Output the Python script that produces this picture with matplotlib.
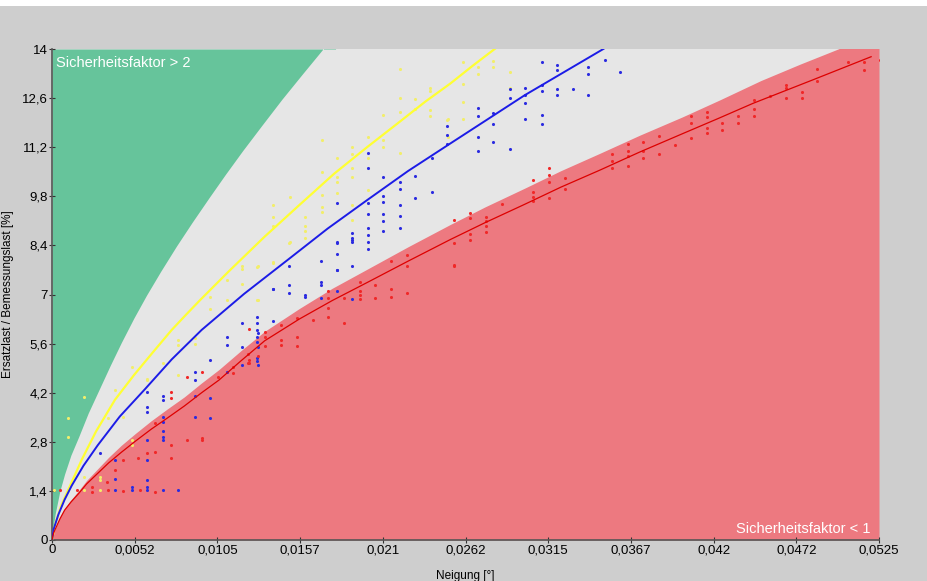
import numpy as np
import matplotlib.pyplot as plt
from matplotlib.patches import Rectangle

plt.rcParams['font.family'] = ['Liberation Sans', 'DejaVu Sans']

# fitted curves (x = Neigung, y = Ersatzlast / Bemessungslast)
yellow_x = [0, 0.0002, 0.0006, 0.001, 0.0013, 0.0019, 0.0028, 0.004, 0.0052, 0.0064, 0.0076, 0.0085,
            0.0094, 0.0112, 0.0135, 0.0157, 0.0179, 0.0200, 0.0220, 0.0237, 0.0253, 0.0267, 0.0281, 0.0290]
yellow_y = [0, 0.45, 1.0, 1.4, 1.7, 2.3, 3.1, 4.0, 4.7, 5.35, 5.99, 6.42,
            6.84, 7.65, 8.65, 9.55, 10.44, 11.2, 11.9, 12.5, 13.02, 13.52, 14.0, 14.3]

blue_x = [0, 0.0001, 0.0004, 0.0008, 0.00125, 0.002, 0.0029, 0.0043, 0.0059, 0.0076, 0.0095, 0.0122,
          0.0150, 0.0175, 0.0200, 0.0226, 0.0253, 0.0276, 0.0300, 0.0325, 0.0350, 0.0360]
blue_y = [0, 0.3, 0.72, 1.15, 1.55, 2.12, 2.7, 3.52, 4.3, 5.15, 5.99, 7.02,
          8.0, 8.88, 9.69, 10.52, 11.31, 11.98, 12.68, 13.34, 14.0, 14.3]

red_x = [0, 0.0001, 0.0003, 0.0005, 0.0008, 0.0012, 0.0017, 0.0022, 0.0029, 0.0036, 0.0044, 0.0053,
         0.0063, 0.0073, 0.0084, 0.0095, 0.0106, 0.0120, 0.0135, 0.0157, 0.0178, 0.0200, 0.0226,
         0.0253, 0.0275, 0.0300, 0.0323, 0.0348, 0.0373, 0.0400, 0.0423, 0.0445, 0.0483, 0.0520]
red_y = [0, 0.2, 0.4, 0.6, 0.85, 1.08, 1.33, 1.6, 1.9, 2.2, 2.5, 2.82,
         3.16, 3.47, 3.82, 4.2, 4.56, 5.11, 5.68, 6.3, 6.83, 7.34, 7.95,
         8.57, 9.05, 9.57, 10.06, 10.55, 11.06, 11.58, 12.02, 12.45, 13.12, 13.78]

# area boundaries
green_x = [0, 0.0001, 0.0002, 0.0005, 0.0008, 0.0012, 0.0017, 0.0023, 0.003, 0.0037, 0.0044, 0.0052,
           0.0060, 0.0069, 0.0079, 0.0089, 0.0100, 0.0110, 0.0121, 0.0133, 0.0146, 0.0159, 0.0172, 0.0180]
green_y = [0, 0.45, 0.74, 1.4, 1.88, 2.42, 2.95, 3.62, 4.3, 4.98, 5.63, 6.33,
           6.98, 7.66, 8.38, 9.06, 9.78, 10.42, 11.1, 11.81, 12.57, 13.29, 14.0, 14.4]

redarea_x = [0, 0.0001, 0.0003, 0.0005, 0.0008, 0.0012, 0.0017, 0.0022, 0.0029, 0.0036, 0.0044, 0.0053,
             0.0063, 0.0073, 0.0084, 0.0095, 0.0106, 0.0120, 0.0135, 0.0157, 0.0178, 0.0200, 0.0226,
             0.0253, 0.0275, 0.0300, 0.0323, 0.0348, 0.0373, 0.0400, 0.0424, 0.0450, 0.0475, 0.0499, 0.0525]
redarea_y = [0, 0.22, 0.42, 0.64, 0.9, 1.14, 1.41, 1.7, 2.03, 2.36, 2.7, 3.04,
             3.4, 3.73, 4.08, 4.48, 4.86, 5.4, 5.95, 6.6, 7.18, 7.72, 8.36,
             9.0, 9.5, 10.03, 10.53, 11.03, 11.54, 12.06, 12.55, 13.1, 13.57, 14.0, 14.5]

# measured points
yel_px = [0.0001, 0.00104, 0.00205, 0.00305, 0.00104, 0.00104, 0.00205, 0.00205, 0.00305, 0.00305,
          0.00357, 0.004, 0.00453, 0.00506, 0.00506, 0.00506, 0.00601, 0.00601, 0.00707, 0.00802,
          0.00802, 0.00802, 0.00908, 0.00908, 0.01003, 0.01003, 0.01109, 0.01109, 0.01204, 0.01204,
          0.01204, 0.01303, 0.01303, 0.01309, 0.01309, 0.01405, 0.01405, 0.01405, 0.01405, 0.01405,
          0.01506, 0.01511, 0.01511, 0.01606, 0.01606, 0.01606, 0.01606, 0.01712, 0.01712, 0.01712,
          0.01712, 0.01712, 0.01807, 0.01807, 0.01807, 0.01807, 0.01902, 0.01902, 0.01902, 0.01902,
          0.01902, 0.01902, 0.02008, 0.02008, 0.02008, 0.02103, 0.02103, 0.02103, 0.02209, 0.02209,
          0.02209, 0.02209, 0.02304, 0.02304, 0.024, 0.024, 0.024, 0.024, 0.02505, 0.02516,
          0.02516, 0.02611, 0.02611, 0.02611, 0.02611, 0.02706, 0.02706, 0.02801, 0.02801, 0.02907,
          0.02907]
yel_py = [1.43, 1.43, 1.43, 1.43, 3.47, 2.95, 4.09, 1.81, 1.8, 1.7,
          3.47, 4.28, 3.51, 4.94, 2.85, 2.7, 4.6, 4.55, 5.04, 5.7,
          5.55, 4.7, 5.6, 5.75, 6.93, 6.6, 7.41, 6.84, 7.8, 7.3,
          7.73, 7.79, 6.84, 7.8, 6.84, 9.55, 9.2, 8.96, 7.94, 7.89,
          8.46, 9.79, 8.5, 8.95, 8.8, 8.6, 9.2, 11.4, 10.5, 9.85,
          9.5, 9.35, 10.88, 10.35, 10.2, 9.9, 11.2, 11.0, 10.6, 10.35,
          9.55, 9.12, 11.5, 10.9, 9.98, 12.12, 11.4, 11.2, 13.42, 12.6,
          12.2, 11.03, 12.57, 12.3, 12.9, 12.8, 12.25, 12.1, 11.98, 12.0,
          11.5, 13.64, 13.0, 12.5, 12.0, 13.5, 13.3, 13.65, 13.5, 13.35,
          12.9]

blue_px = [0.004, 0.00506, 0.00506, 0.00601, 0.00601, 0.00707, 0.00802, 0.00305, 0.004, 0.004,
           0.00601, 0.00601, 0.00601, 0.00601, 0.00601, 0.00601, 0.00707, 0.00707, 0.00707, 0.00707,
           0.00707, 0.00707, 0.00707, 0.00908, 0.00908, 0.00908, 0.00908, 0.01003, 0.01003, 0.01003,
           0.01109, 0.01109, 0.01109, 0.01204, 0.0131, 0.0131, 0.0131, 0.01204, 0.01204, 0.01303,
           0.01303, 0.01303, 0.01303, 0.01303, 0.01303, 0.01303, 0.01405, 0.01405, 0.01405, 0.01506,
           0.01506, 0.01506, 0.01606, 0.01606, 0.01706, 0.01706, 0.01706, 0.01706, 0.01807, 0.01807,
           0.01807, 0.01807, 0.01807, 0.01807, 0.01807, 0.01902, 0.01902, 0.01902, 0.01902, 0.01902,
           0.01902, 0.02004, 0.02004, 0.02004, 0.02008, 0.02008, 0.02008, 0.02008, 0.02008, 0.02103,
           0.02103, 0.02103, 0.02103, 0.02103, 0.02103, 0.02209, 0.02209, 0.02209, 0.02209, 0.02209,
           0.02304, 0.02304, 0.0241, 0.0241, 0.02505, 0.02505, 0.02505, 0.02706, 0.02706, 0.02706,
           0.02706, 0.02801, 0.02801, 0.02801, 0.02907, 0.02907, 0.02907, 0.03003, 0.03003, 0.03003,
           0.03003, 0.03109, 0.03109, 0.03109, 0.03109, 0.03109, 0.03204, 0.03204, 0.03204, 0.03204,
           0.03305, 0.03405, 0.03405, 0.03405, 0.0351, 0.03606]
blue_py = [1.43, 1.43, 1.5, 1.43, 1.5, 1.43, 1.43, 2.47, 2.28, 1.74,
           4.23, 3.8, 3.66, 2.85, 2.28, 1.7, 4.1, 4.0, 3.5, 3.37,
           3.1, 2.95, 2.85, 4.8, 4.55, 4.1, 3.51, 5.13, 4.04, 3.47,
           5.8, 5.56, 4.8, 5.51, 5.9, 5.5, 5.0, 6.18, 5.0, 6.37,
           6.2, 6.0, 5.8, 5.65, 5.18, 5.1, 7.15, 6.25, 7.15, 7.81,
           7.27, 7.04, 7.0, 6.94, 7.96, 7.37, 7.27, 6.9, 8.48, 8.15,
           7.71, 7.11, 9.6, 8.5, 7.71, 8.75, 8.6, 8.5, 8.55, 7.81,
           6.86, 8.7, 8.5, 8.3, 11.03, 10.6, 9.6, 9.3, 8.9, 10.34,
           9.8, 9.65, 9.3, 9.1, 8.8, 10.2, 10.0, 9.55, 9.25, 8.9,
           10.38, 9.74, 10.88, 9.93, 11.8, 11.55, 11.3, 12.31, 12.1, 11.5,
           11.1, 12.18, 11.85, 11.35, 12.85, 12.6, 11.14, 12.9, 12.7, 12.45,
           12.0, 13.64, 12.96, 12.8, 12.13, 11.85, 13.55, 13.4, 12.85, 12.7,
           12.85, 13.5, 13.3, 12.7, 13.7, 13.35]

red_px = [0.00051, 0.00157, 0.00252, 0.00252, 0.00357, 0.00453, 0.00559, 0.00654, 0.00347, 0.004,
          0.00453, 0.00547, 0.00601, 0.00654, 0.00654, 0.00755, 0.00755, 0.00755, 0.00755, 0.00855,
          0.00855, 0.0095, 0.0095, 0.0095, 0.01056, 0.01151, 0.01151, 0.01246, 0.01246, 0.0131,
          0.01253, 0.01253, 0.01253, 0.01352, 0.01352, 0.01352, 0.01452, 0.01452, 0.01452, 0.01553,
          0.01553, 0.01553, 0.01655, 0.01754, 0.01754, 0.01754, 0.01754, 0.01853, 0.01853, 0.01955,
          0.01955, 0.01955, 0.01955, 0.0205, 0.0205, 0.02152, 0.02152, 0.02152, 0.02251, 0.02251,
          0.02251, 0.02554, 0.02552, 0.02552, 0.02552, 0.02653, 0.02653, 0.02653, 0.02653, 0.02755,
          0.02755, 0.02755, 0.02755, 0.02855, 0.03055, 0.03055, 0.03055, 0.03055, 0.03155, 0.03155,
          0.03155, 0.03155, 0.03257, 0.03257, 0.03557, 0.03557, 0.03557, 0.03655, 0.03655, 0.03655,
          0.03655, 0.03754, 0.03754, 0.03754, 0.03853, 0.03853, 0.03955, 0.04054, 0.04054, 0.04054,
          0.04156, 0.04156, 0.04156, 0.04156, 0.04255, 0.04255, 0.04357, 0.04357, 0.04456, 0.04456,
          0.04456, 0.04558, 0.04657, 0.04657, 0.04657, 0.04759, 0.04759, 0.04854, 0.04854, 0.05055,
          0.05155, 0.05155, 0.05256]
red_py = [1.43, 1.43, 1.5, 1.38, 1.43, 1.4, 1.43, 1.36, 1.66, 1.99,
          2.28, 2.33, 2.47, 3.33, 2.52, 2.71, 2.33, 4.23, 4.04, 4.66,
          2.85, 2.9, 2.85, 4.8, 4.66, 4.94, 4.75, 5.3, 5.04, 5.25,
          6.01, 5.13, 5.04, 5.94, 5.8, 5.53, 6.13, 5.7, 5.57, 6.32,
          5.8, 5.53, 6.27, 7.11, 6.89, 6.62, 6.37, 6.89, 6.2, 7.37,
          7.1, 7.0, 6.86, 7.27, 6.89, 7.96, 7.15, 6.94, 8.13, 7.8,
          7.04, 8.48, 9.12, 7.82, 7.84, 9.32, 9.18, 8.73, 8.55, 9.22,
          9.1, 8.94, 8.77, 9.58, 10.26, 9.91, 9.77, 9.67, 10.62, 10.4,
          10.2, 9.76, 10.33, 10.0, 11.0, 10.8, 10.6, 11.3, 11.1, 10.95,
          10.66, 11.35, 11.1, 10.9, 11.52, 11.0, 11.26, 12.1, 11.9, 11.47,
          12.2, 12.05, 11.75, 11.6, 11.9, 11.7, 12.1, 11.9, 12.55, 12.3,
          12.1, 12.67, 12.98, 12.9, 12.6, 12.78, 12.6, 13.42, 13.1, 13.64,
          13.64, 13.39, 13.7]

x_ticks = [i * 0.00525 for i in range(11)]
x_labels = ['0', '0,0052', '0,0105', '0,0157', '0,021', '0,0262', '0,0315', '0,0367', '0,042', '0,0472', '0,0525']
y_ticks = [i * 1.4 for i in range(11)]
y_labels = ['0', '1,4', '2,8', '4,2', '5,6', '7', '8,4', '9,8', '11,2', '12,6', '14']

fig = plt.figure(figsize=(9.28, 5.81), dpi=100, facecolor='#cecece')
fig.patches.append(Rectangle((0, 1 - 6 / 581), 1, 6 / 581, transform=fig.transFigure,
                             facecolor='white', edgecolor='none'))
ax = fig.add_axes([52 / 928, 41 / 581, 827 / 928, 491 / 581])
ax.set_facecolor('#e6e6e6')

ax.fill_between(green_x, green_y, 14, color='#66c49b', lw=0, zorder=1)
ax.fill_between(redarea_x, redarea_y, 0, color='#ed7980', lw=0, zorder=1)

ax.scatter(yel_px, yel_py, s=5, color='#f2ee6a', lw=0, zorder=3)
ax.scatter(blue_px, blue_py, s=5, color='#2b2be0', lw=0, zorder=3)
ax.scatter(red_px, red_py, s=5, color='#f02828', lw=0, zorder=3)

ax.plot(yellow_x, yellow_y, color='#ffff33', lw=1.6, zorder=4)
ax.plot(blue_x, blue_y, color='#1c1ce6', lw=1.4, zorder=4)
ax.plot(red_x, red_y, color='#dd0000', lw=0.9, zorder=4)

ax.set_xlim(0, 0.0525)
ax.set_ylim(0, 14)
ax.set_xticks(x_ticks)
ax.set_xticklabels(x_labels)
ax.set_yticks(y_ticks)
ax.set_yticklabels(y_labels)
ax.tick_params(direction='inout', length=4, width=0.8, color='#333333', labelsize=9.5, pad=1)

for s in ['top', 'right']:
    ax.spines[s].set_visible(False)
for s in ['left', 'bottom']:
    ax.spines[s].set_color('#555555')
    ax.spines[s].set_linewidth(1.2)

ax.text(0.005, 0.985, 'Sicherheitsfaktor > 2', transform=ax.transAxes, color='white',
        fontsize=10.5, ha='left', va='top', zorder=5)
ax.text(0.99, 0.008, 'Sicherheitsfaktor < 1', transform=ax.transAxes, color='white',
        fontsize=10.5, ha='right', va='bottom', zorder=5)

ax.set_xlabel('Neigung [°]', fontsize=8.5, labelpad=10)
ax.set_ylabel('Ersatzlast / Bemessungslast [%]', fontsize=8.5, labelpad=6)

fig.savefig('out.png', dpi=100, facecolor=fig.get_facecolor())
